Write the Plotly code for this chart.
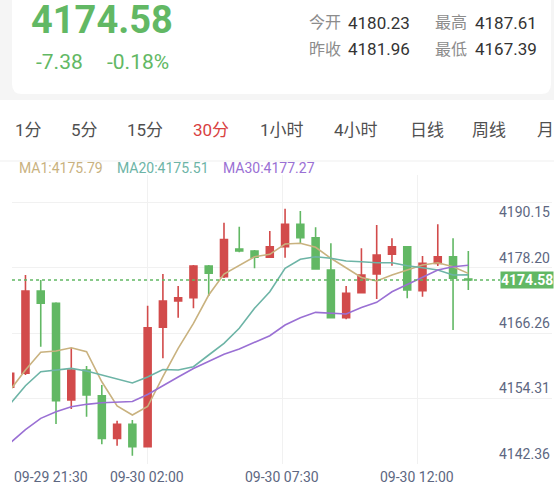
import plotly.graph_objects as go

# ---- data ----
times = ["09-29 21:30", "09-29 22:00", "09-29 22:30", "09-29 23:00", "09-29 23:30",
         "09-30 00:00", "09-30 00:30", "09-30 01:00", "09-30 01:30", "09-30 02:00",
         "09-30 02:30", "09-30 03:00", "09-30 03:30", "09-30 04:00", "09-30 04:30",
         "09-30 06:00", "09-30 06:30", "09-30 07:00", "09-30 07:30", "09-30 08:00",
         "09-30 08:30", "09-30 09:00", "09-30 09:30", "09-30 10:00", "09-30 10:30",
         "09-30 11:00", "09-30 11:30", "09-30 12:00", "09-30 12:30", "09-30 13:00",
         "09-30 13:30"]

open_ = [4154.96, 4157.52, 4172.57, 4170.32, 4152.64, 4158.12, 4153.42, 4145.63, 4148.19, 4144.10,
         4165.93, 4170.74, 4171.34, 4177.14, 4175.18, 4180.23, 4179.88, 4178.73, 4180.67, 4184.76,
         4182.31, 4176.41, 4167.69, 4172.26, 4175.68, 4179.28, 4180.67, 4172.62, 4177.63, 4178.84,
         4174.76]
high = [4157.76, 4175.49, 4174.58, 4170.50, 4162.20, 4158.85, 4155.38, 4148.85, 4148.98, 4169.88,
        4175.68, 4173.48, 4177.32, 4177.32, 4185.06, 4184.33, 4180.07, 4183.54, 4187.61, 4187.20,
        4184.22, 4181.29, 4173.48, 4180.38, 4184.64, 4182.20, 4180.67, 4178.97, 4184.76, 4182.20,
        4179.88]
low = [4154.83, 4157.21, 4162.38, 4148.25, 4150.99, 4149.58, 4144.54, 4144.28, 4142.45, 4144.10,
       4160.26, 4167.69, 4169.41, 4171.65, 4174.95, 4179.64, 4176.72, 4178.73, 4178.66, 4181.29,
       4176.59, 4167.69, 4167.39, 4172.26, 4171.11, 4177.19, 4171.23, 4171.53, 4177.14, 4165.44,
       4172.75]
close = [4157.52, 4172.57, 4170.32, 4152.51, 4158.12, 4153.55, 4145.63, 4148.19, 4144.10, 4165.86,
         4170.74, 4171.34, 4177.14, 4175.81, 4181.96, 4179.88, 4178.73, 4180.67, 4184.76, 4182.31,
         4176.59, 4167.69, 4172.15, 4175.49, 4179.15, 4180.67, 4172.75, 4177.63, 4178.84, 4174.89,
         4174.58]

ma1 = [4154.47, 4158.12, 4161.36, 4161.60, 4162.20, 4161.47, 4155.98, 4151.54, 4149.90, 4151.45,
       4156.90, 4162.09, 4166.66, 4171.84, 4175.68, 4177.23, 4178.84, 4179.28, 4181.16, 4181.29,
       4180.56, 4178.55, 4176.72, 4175.04, 4174.40, 4175.49, 4176.41, 4177.32, 4177.74, 4177.01,
       4175.79]
ma20 = [4151.91, 4155.25, 4157.81, 4158.12, 4158.43, 4157.94, 4157.21, 4156.48, 4155.75, 4156.84,
        4158.21, 4158.12, 4158.73, 4160.87, 4163.01, 4165.75, 4169.41, 4172.44, 4176.72, 4178.37,
        4178.84, 4178.55, 4178.05, 4177.93, 4177.74, 4177.74, 4177.19, 4176.83, 4176.41, 4175.49,
        4175.51]
ma30 = [4144.78, 4147.21, 4149.29, 4150.50, 4151.41, 4151.85, 4152.14, 4152.27, 4152.36, 4153.64,
        4155.29, 4156.84, 4158.40, 4159.64, 4160.99, 4161.96, 4163.19, 4164.40, 4166.35, 4167.69,
        4168.67, 4168.49, 4168.36, 4169.55, 4170.50, 4172.44, 4173.79, 4175.00, 4176.41, 4177.01,
        4177.27]

y_tick_labels = ["4190.15", "4178.20", "4166.26", "4154.31", "4142.36"]
x_tick_labels = ["09-29 21:30", "09-30 02:00", "09-30 07:30", "09-30 12:00"]

last_price = 4174.58
change = -7.38
change_pct = -0.18
quote_labels = ["今开", "最高", "昨收", "最低"]
quote_values = [4180.23, 4187.61, 4181.96, 4167.39]
periods = ["1分", "5分", "15分", "30分", "1小时", "4小时", "日线", "周线", "月"]
active_period = "30分"

# ---- styling ----
RED = "#d24b4b"
GREEN = "#62b864"
TAN = "#c9b27f"
TEAL = "#6db4a6"
PURPLE = "#9a70d4"
AXIS_TXT = "#5d6781"
FONT = "Roboto, 'Noto Sans CJK SC', sans-serif"

W, H = 554, 490
PL, PR, PT, PB = 12, 552, 175, 464
x_range = [0.118, 35.48]
y_range = [4140.94, 4193.78]
grid_shift = 1.37  # grid lines sit a little under the printed level


def fx(x):
    return (x - PL) / (PR - PL)


def fy(y):
    return (PB - y) / (PB - PT)


x_idx = list(range(len(times)))

fig = go.Figure()

fig.add_trace(go.Candlestick(
    x=x_idx, open=open_, high=high, low=low, close=close,
    hovertext=times,
    increasing=dict(line=dict(color=RED, width=1.6), fillcolor=RED),
    decreasing=dict(line=dict(color=GREEN, width=1.6), fillcolor=GREEN),
    whiskerwidth=0,
    showlegend=False,
))

for vals, col in [(ma1, TAN), (ma20, TEAL), (ma30, PURPLE)]:
    fig.add_trace(go.Scatter(
        x=x_idx, y=vals, mode="lines",
        line=dict(color=col, width=1.6),
        hoverinfo="skip", showlegend=False,
    ))

x_grid = [x_range[0] + k * (x_range[1] - x_range[0]) / 4 for k in range(5)]
y_grid = [float(v) - grid_shift for v in y_tick_labels]

shapes = [
    # grey page strip behind the quote card
    dict(type="rect", xref="paper", yref="paper", x0=fx(0), x1=fx(W), y0=fy(100), y1=fy(0),
         fillcolor="#f5f5f5", line=dict(width=0), layer="below"),
    # white quote card with rounded bottom corners
    dict(type="path", xref="paper", yref="paper", layer="below",
         path=(f"M {fx(12)} {fy(-5)} L {fx(551)} {fy(-5)} L {fx(551)} {fy(84)} "
               f"Q {fx(551)} {fy(94)} {fx(541)} {fy(94)} L {fx(22)} {fy(94)} "
               f"Q {fx(12)} {fy(94)} {fx(12)} {fy(84)} Z"),
         fillcolor="white", line=dict(width=0)),
    # divider under the period tabs
    dict(type="line", xref="paper", yref="paper", x0=fx(0), x1=fx(W), y0=fy(161), y1=fy(161),
         line=dict(color="#efefef", width=1)),
    # last price dotted line
    dict(type="line", xref="paper", yref="y", x0=0, x1=fx(500), y0=last_price, y1=last_price,
         line=dict(color=GREEN, width=1.5, dash="dot")),
]

ann = []
# header
ann.append(dict(text=f"{last_price:.2f}", x=fx(29), y=fy(20), xanchor="left", yanchor="middle",
                font=dict(size=38, color=GREEN, family=FONT, weight="bold")))
ann.append(dict(text=f"{change:.2f}", x=fx(34), y=fy(62), xanchor="left", yanchor="middle",
                font=dict(size=21, color=GREEN, family=FONT)))
ann.append(dict(text=f"{change_pct:.2f}%", x=fx(105), y=fy(62), xanchor="left", yanchor="middle",
                font=dict(size=21, color=GREEN, family=FONT)))
q_pos = [(307, 346, 23), (433, 473, 23), (307, 346, 49), (433, 473, 49)]
for lab, val, (lx, vx, yy) in zip(quote_labels, quote_values, q_pos):
    ann.append(dict(text=lab, x=fx(lx), y=fy(yy), xanchor="left", yanchor="middle",
                    font=dict(size=16, color="#8c8c8c", family=FONT)))
    ann.append(dict(text=f"{val:.2f}", x=fx(vx), y=fy(yy), xanchor="left", yanchor="middle",
                    font=dict(size=17, color="#333333", family=FONT)))

# period tabs
tab_x = [13, 69, 125, 191, 258, 332, 408, 470, 535]
for p, tx in zip(periods, tab_x):
    ann.append(dict(text=p, x=fx(tx), y=fy(130), xanchor="left", yanchor="middle",
                    font=dict(size=17, family=FONT,
                              color="#d8413f" if p == active_period else "#505050")))

# MA legend
for txt, col, lx in [(f"MA1:{ma1[-1]:.2f}", TAN, 17), (f"MA20:{ma20[-1]:.2f}", TEAL, 115),
                     (f"MA30:{ma30[-1]:.2f}", PURPLE, 221)]:
    ann.append(dict(text=txt, x=fx(lx), y=fy(168), xanchor="left", yanchor="middle",
                    font=dict(size=14, color=col, family=FONT)))

# y labels (sit on their grid line, the top one hangs below it)
for i, (lab, gv) in enumerate(zip(y_tick_labels, y_grid)):
    ann.append(dict(text=lab, xref="paper", yref="y", x=1, y=gv, xanchor="right",
                    yanchor="top" if i == 0 else "bottom",
                    font=dict(size=14, color=AXIS_TXT, family=FONT)))

# x labels
for i, (lab, gx) in enumerate(zip(x_tick_labels, x_grid)):
    ann.append(dict(text=lab, xref="x", yref="paper", x=gx, y=fy(477),
                    xanchor="left" if i == 0 else "center", yanchor="middle",
                    font=dict(size=14, color=AXIS_TXT, family=FONT)))

# last price tag
ann.append(dict(text=f"<b>{last_price:.2f}</b>", xref="paper", yref="y", x=fx(W), y=last_price,
                xanchor="right", yanchor="middle", bgcolor=GREEN, borderpad=0,
                font=dict(size=14, color="white", family=FONT)))

for a in ann:
    a.setdefault("xref", "paper")
    a.setdefault("yref", "paper")
    a["showarrow"] = False

fig.update_layout(
    width=W, height=H,
    margin=dict(l=PL, r=W - PR, t=PT, b=H - PB),
    paper_bgcolor="white", plot_bgcolor="white",
    boxgap=0.35,
    shapes=shapes, annotations=ann,
    font=dict(family=FONT),
    xaxis=dict(range=x_range, tickvals=x_grid, showticklabels=False, ticks="",
               showgrid=True, gridcolor="#f1f1f1", gridwidth=1, zeroline=False,
               showline=False, rangeslider=dict(visible=False), fixedrange=True),
    yaxis=dict(range=y_range, tickvals=y_grid, showticklabels=False, ticks="",
               showgrid=True, gridcolor="#f1f1f1", gridwidth=1, zeroline=False,
               showline=False, fixedrange=True),
    showlegend=False,
)

# the page's default body margin would push the 554x490 figure off the window
fig.write_html("out.html", config={"displayModeBar": False},
               post_script="document.body.style.margin='0';document.body.style.overflow='hidden';")
